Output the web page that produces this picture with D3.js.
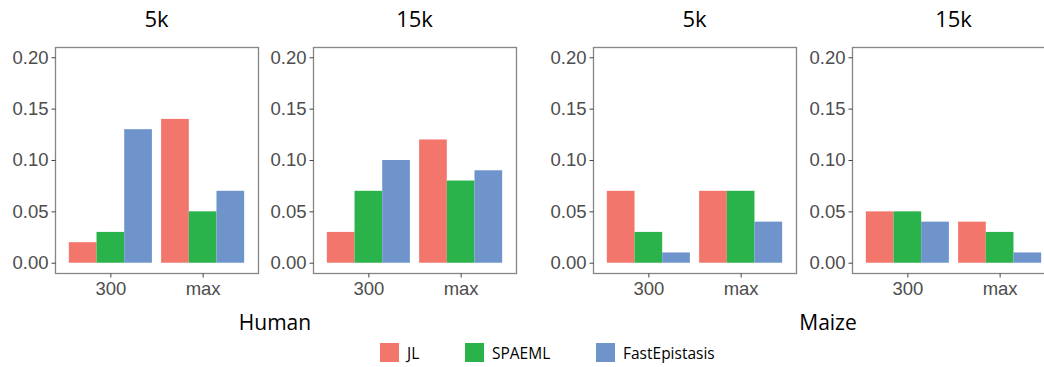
<!DOCTYPE html>
<html>
<head>
<meta charset="utf-8">
<script src="https://cdn.jsdelivr.net/npm/d3@7"></script>
<style>
  body { margin: 0; background: #fff; }
  svg { display: block; }
</style>
</head>
<body>
<div id="chart"></div>
<script>
// data
var categories = ["300", "max"]
var methods = ["JL", "SPAEML", "FastEpistasis"]
var colors = ["#f3766c", "#2bb34b", "#6f94cc"]
var panelTitles = ["5k", "15k", "5k", "15k"]
var groupNames = ["Human", "Maize"]
var yTicks = [0, 0.05, 0.10, 0.15, 0.20]

// one array per panel: [category][method]
var human5k  = [[0.02, 0.03, 0.13], [0.14, 0.05, 0.07]]
var human15k = [[0.03, 0.07, 0.10], [0.12, 0.08, 0.09]]
var maize5k  = [[0.07, 0.03, 0.01], [0.07, 0.07, 0.04]]
var maize15k = [[0.05, 0.05, 0.04], [0.04, 0.03, 0.01]]
var panels = [human5k, human15k, maize5k, maize15k]

var width = 1044, height = 367
var svg = d3.select("#chart").append("svg")
    .attr("width", width).attr("height", height)

// panel left edges, all panels same size
var panelX = [55, 313, 593, 852]
var panelW = 203
var panelTop = 47, panelBottom = 273

var y = d3.scaleLinear().domain([-0.01, 0.21]).range([panelBottom, panelTop])

var titleFont = "'Open Sans', 'Noto Sans', sans-serif"
var axisFont = "'Liberation Sans', Arial, sans-serif"

panels.forEach(function(data, p) {
    var x0 = panelX[p]
    var x = d3.scalePoint().domain(categories).range([0, panelW]).padding(0.6)
    var groupW = x.step() * 0.9
    var xs = d3.scaleBand().domain(methods).range([-groupW/2, groupW/2])

    var g = svg.append("g").attr("transform", "translate(" + x0 + ",0)")

    // bars
    data.forEach(function(vals, c) {
        g.selectAll(null).data(vals).enter().append("rect")
            .attr("x", function(d, i) { return x(categories[c]) + xs(methods[i]) })
            .attr("width", xs.bandwidth())
            .attr("y", function(d) { return y(d) })
            .attr("height", function(d) { return y(0) - y(d) })
            .attr("fill", function(d, i) { return colors[i] })
    })

    // panel border
    g.append("rect")
        .attr("x", 0.5).attr("y", panelTop + 0.5)
        .attr("width", panelW).attr("height", panelBottom - panelTop)
        .attr("fill", "none").attr("stroke", "#858585").attr("stroke-width", 1.3)

    // y axis
    var yAxis = g.append("g").attr("transform", "translate(0.5,0)")
        .call(d3.axisLeft(y).tickValues(yTicks).tickSize(4).tickPadding(3)
            .tickFormat(d3.format(".2f")))
    yAxis.attr("font-family", axisFont).attr("font-size", 18.5)
    yAxis.select(".domain").remove()
    yAxis.selectAll("line").attr("stroke", "#444")
    yAxis.selectAll("text").attr("fill", "#4d4d4d")

    // x axis
    var xAxis = g.append("g").attr("transform", "translate(0," + (panelBottom + 0.5) + ")")
        .call(d3.axisBottom(x).tickSize(4).tickPadding(4))
    xAxis.attr("font-family", axisFont).attr("font-size", 18.5)
    xAxis.select(".domain").remove()
    xAxis.selectAll("line").attr("stroke", "#444")
    xAxis.selectAll("text").attr("fill", "#4d4d4d")

    // panel title
    g.append("text")
        .attr("x", panelW / 2).attr("y", 27)
        .attr("text-anchor", "middle")
        .style("font-family", titleFont).style("font-size", "22px")
        .attr("fill", "#000")
        .text(panelTitles[p])
})

// group labels under each pair of panels
var groupX = [275, 828]
groupNames.forEach(function(name, i) {
    svg.append("text")
        .attr("x", groupX[i]).attr("y", 330)
        .attr("text-anchor", "middle")
        .style("font-family", titleFont).style("font-size", "21px")
        .attr("fill", "#000")
        .text(name)
})

// legend
var legendX = [380, 465, 596]
var legend = svg.append("g")
methods.forEach(function(m, i) {
    legend.append("rect")
        .attr("x", legendX[i]).attr("y", 343)
        .attr("width", 19).attr("height", 19)
        .attr("fill", colors[i])
    legend.append("text")
        .attr("x", legendX[i] + 27).attr("y", 359)
        .style("font-family", titleFont).style("font-size", "15.5px")
        .attr("fill", "#000")
        .text(m)
})
</script>
</body>
</html>
